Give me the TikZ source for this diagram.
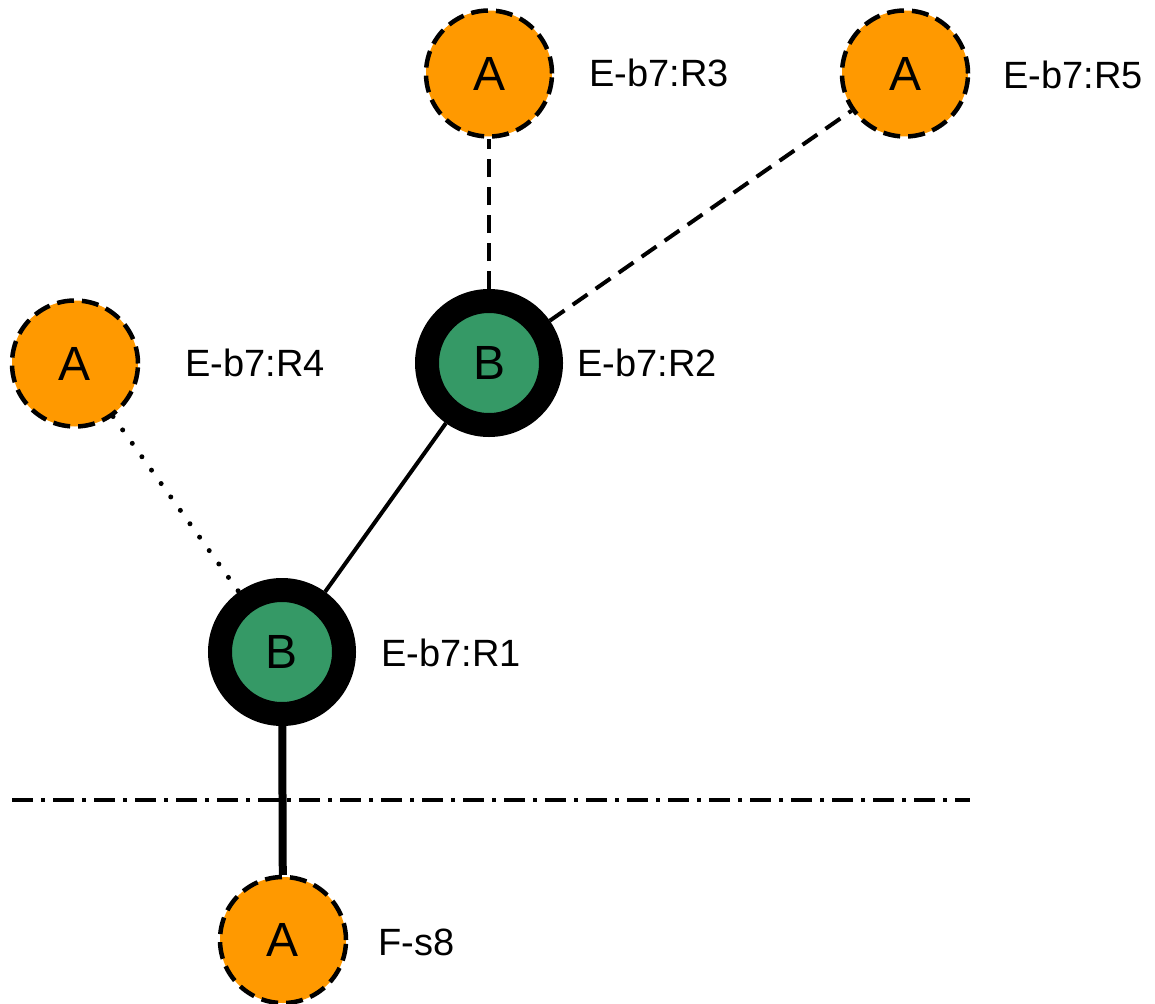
\documentclass[tikz,border=0pt]{standalone}
\usepackage{fontspec}
\setmainfont{Liberation Sans}
\definecolor{aorange}{RGB}{255,153,0}
\definecolor{bgreen}{RGB}{53,153,102}
\begin{document}
\begin{tikzpicture}[x=1pt,y=-1pt,
  anode/.style={circle,fill=aorange,draw=black,line width=4.5pt,dash pattern=on 17pt off 8pt,
    minimum size=126pt,inner sep=0pt,font=\fontsize{48}{48}\selectfont},
  bnode/.style={circle,fill=bgreen,draw=black,line width=24pt,
    minimum size=124pt,inner sep=0pt,font=\fontsize{48}{48}\selectfont},
  lbl/.style={anchor=west,inner sep=0pt,font=\fontsize{38}{38}\selectfont},
  dashedge/.style={line width=4pt,dash pattern=on 18pt off 10pt},
  dotedge/.style={line width=5pt,line cap=round,dash pattern=on 0pt off 16.5pt},
  thinedge/.style={line width=4pt},
  thickedge/.style={line width=8pt},
  sepline/.style={line width=4pt,dash pattern=on 21pt off 8pt on 4pt off 8pt}]
\useasboundingbox (0,0) rectangle (1155,1003);
% nodes
\node[anode] (r3) at (489,73.5) {A};
\node[anode] (r5) at (905,73.5) {A};
\node[anode] (r4) at (75,363.5) {A};
\node[bnode] (r2) at (489,363) {B};
\node[bnode] (r1) at (282,652) {B};
\node[anode] (fs8) at (283,940) {A};
% labels
\node[lbl] (l3) at (589,73) {E-b7:R3};
\node[lbl] (l5) at (1003,75) {E-b7:R5};
\node[lbl] (l4) at (185,363) {E-b7:R4};
\node[lbl] (l2) at (577,363) {E-b7:R2};
\node[lbl] (l1) at (381,653) {E-b7:R1};
\node[lbl] (lf) at (378,942) {F-s8};
% edges
\draw[dashedge] (r2) -- (r3);
\draw[dashedge] (r2) -- (r5);
\draw[dotedge] (r4) -- (r1);
\draw[thinedge] (r1) -- (r2);
\draw[thickedge] (r1) -- (fs8);
% separator
\coordinate (s1) at (12,800);
\coordinate (s2) at (970,800);
\draw[sepline] (s1) -- (s2);
\end{tikzpicture}
\end{document}
